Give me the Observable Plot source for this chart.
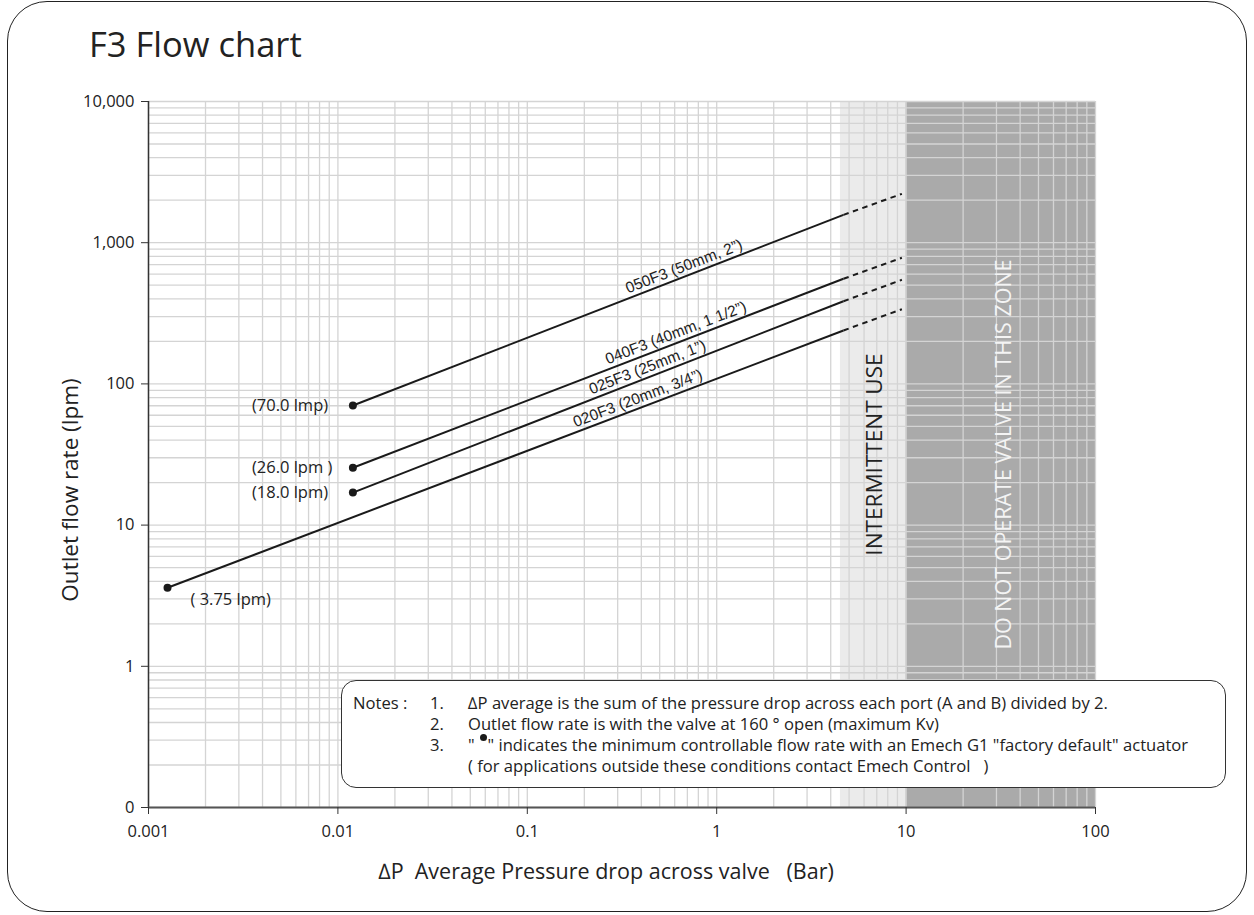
<!DOCTYPE html>
<html>
<head>
<meta charset="utf-8">
<script src="https://cdn.jsdelivr.net/npm/d3@7"></script>
<script src="https://cdn.jsdelivr.net/npm/@observablehq/plot@0.6"></script>
<style>
  html, body { margin: 0; padding: 0; background: #fff; }
  body { width: 1254px; height: 915px; position: relative; overflow: hidden; font-family: "Open Sans", sans-serif; color: #222; }
  #chart { position: absolute; left: 0; top: 0; }
  .abs { position: absolute; white-space: pre; line-height: 1; }
  #frame { position: absolute; left: 7px; top: 1px; width: 1238px; height: 909px; border: 1.5px solid #222; border-radius: 40px; pointer-events: none; }
  #title { left: 89px; top: 27px; font-size: 34.5px; color: #222; }
  #xtitle { left: 606px; top: 860px; font-size: 21.5px; transform: translateX(-50%); }
  #ytitle { left: 70px; top: 490px; font-size: 22.5px; transform: translate(-50%, -50%) rotate(-90deg); }
  #notes { position: absolute; left: 341px; top: 680px; width: 883px; height: 106px; border: 1.3px solid #333; border-radius: 15px; background: #fff; }
  .n { position: absolute; font-size: 16.6px; white-space: pre; line-height: 1; }
  #bullet { position: absolute; width: 7px; height: 7px; border-radius: 50%; background: #1a1a1a; }
</style>
</head>
<body>
<div id="chart"></div>
<div id="frame"></div>
<div id="title" class="abs"></div>
<div id="xtitle" class="abs"></div>
<div id="ytitle" class="abs"></div>
<div id="notes"></div>
<script>
// ---------- data ----------
const titleText = "F3 Flow chart";
const xTitle = "\u2206P  Average Pressure drop across valve   (Bar)";
const yTitle = "Outlet flow rate (lpm)";

const xDomain = [0.001, 100];
const yDomain = [0.1, 10000];
const xTicks = [0.001, 0.01, 0.1, 1, 10, 100];
const xTickLabels = ["0.001", "0.01", "0.1", "1", "10", "100"];
const yTicks = [0.1, 1, 10, 100, 1000, 10000];
const yTickLabels = ["0", "1", "10", "100", "1,000", "10,000"];

const seriesNames = ["050F3 (50mm, 2\u201d)", "040F3 (40mm, 1 1/2\u201d)", "025F3 (25mm, 1\u201d)", "020F3 (20mm, 3/4\u201d)"];
const startDP = [0.012, 0.012, 0.012, 0.00126];
const startFlow = [70.3, 25.5, 17.0, 3.6];
const solidEndDP = [4.67, 4.67, 4.67, 4.67];
const solidEndFlow = [1575, 555, 385, 239];
const dashEndDP = [9.5, 9.5, 9.5, 9.5];
const dashEndFlow = [2218, 782, 546, 338];
const seriesLabelDP = [0.64, 0.58, 0.41, 0.365];
const minFlowLabels = ["(70.0 lmp)", "(26.0 lpm )", "(18.0 lpm)", "( 3.75 lpm)"];

const zoneNames = ["INTERMITTENT USE", "DO NOT OPERATE VALVE IN THIS ZONE"];
const zoneFrom = [4.5, 10];
const zoneTo = [10, 100];
const zoneLabelDP = [6.8, 33];

const noteHead = "Notes :";
const noteNums = ["1.", "2.", "3.", ""];
const noteLines = [
  "\u2206P average is the sum of the pressure drop across each port (A and B) divided by 2.",
  "Outlet flow rate is with the valve at 160 \u00b0 open (maximum Kv)",
  "\"   \" indicates the minimum controllable flow rate with an Emech G1 \"factory default\" actuator",
  "( for applications outside these conditions contact Emech Control   )"
];

// ---------- layout ----------
const W = 1254, H = 915, mL = 148, mR = 159, mT = 101, mB = 108;
const decX = (W - mL - mR) / Math.log10(xDomain[1] / xDomain[0]);
const decY = (H - mT - mB) / Math.log10(yDomain[1] / yDomain[0]);

const rows = seriesNames.map((name, i) => {
  const lx0 = Math.log10(startDP[i]), ly0 = Math.log10(startFlow[i]);
  const lx1 = Math.log10(solidEndDP[i]), ly1 = Math.log10(solidEndFlow[i]);
  const t = (Math.log10(seriesLabelDP[i]) - lx0) / (lx1 - lx0);
  return {
    name, p0: startDP[i], q0: startFlow[i], p1: solidEndDP[i], q1: solidEndFlow[i],
    p2: dashEndDP[i], q2: dashEndFlow[i], lp: seriesLabelDP[i],
    lq: Math.pow(10, ly0 + t * (ly1 - ly0)),
    angle: -Math.atan(((ly1 - ly0) * decY) / ((lx1 - lx0) * decX)) * 180 / Math.PI,
    minLabel: minFlowLabels[i]
  };
});
const zones = zoneNames.map((label, i) => ({label, from: zoneFrom[i], to: zoneTo[i], at: zoneLabelDP[i]}));
const gridX = d3.scaleLog().domain(xDomain).ticks();
const gridY = d3.scaleLog().domain(yDomain).ticks();
const xFmt = new Map(xTicks.map((v, i) => [v, xTickLabels[i]]));
const yFmt = new Map(yTicks.map((v, i) => [v, yTickLabels[i]]));

const chart = Plot.plot({
  width: W, height: H, marginLeft: mL, marginRight: mR, marginTop: mT, marginBottom: mB,
  x: {type: "log", domain: xDomain},
  y: {type: "log", domain: yDomain},
  style: {fontFamily: "'Open Sans', sans-serif", fontSize: "16.5px", color: "#222", background: "transparent", overflow: "visible"},
  marks: [
    Plot.rect(zones.slice(0, 1), {x1: "from", x2: "to", fill: "#ebebeb"}),
    Plot.rect(zones.slice(1), {x1: "from", x2: "to", fill: "#aaaaaa"}),
    Plot.ruleX(gridX, {stroke: "#d4d4d4", strokeWidth: 1.3}),
    Plot.ruleY(gridY, {stroke: "#d4d4d4", strokeWidth: 1.3}),
    Plot.text(zones.slice(0, 1), {x: "at", text: "label", rotate: -90, frameAnchor: "middle", fontSize: 22.5, fill: "#222"}),
    Plot.text(zones.slice(1), {x: "at", text: "label", rotate: -90, frameAnchor: "middle", fontSize: 21.5, fill: "#f4f4f4"}),
    Plot.link(rows, {x1: "p0", y1: "q0", x2: "p1", y2: "q1", stroke: "#1a1a1a", strokeWidth: 2}),
    Plot.link(rows, {x1: "p1", y1: "q1", x2: "p2", y2: "q2", stroke: "#1a1a1a", strokeWidth: 2, strokeDasharray: "5.5,4.5"}),
    Plot.dot(rows, {x: "p0", y: "q0", r: 4, fill: "#1a1a1a"}),
    Plot.text(rows, {x: "lp", y: "lq", text: "name", rotate: "angle", fontFamily: "'Liberation Sans', Arial, sans-serif", fontSize: 15.5, fill: "#222", dx: 4, dy: -12}),
    Plot.text(rows.slice(0, 3), {x: "p0", y: "q0", text: "minLabel", textAnchor: "start", dx: -101, fontSize: 16.5, fill: "#222"}),
    Plot.text(rows.slice(3), {x: "p0", y: "q0", text: "minLabel", textAnchor: "start", dx: 23, dy: 12, fontSize: 16.5, fill: "#222"}),
    Plot.ruleX([xDomain[0]], {stroke: "#333", strokeWidth: 1.5}),
    Plot.ruleY([yDomain[0]], {stroke: "#555", strokeWidth: 2}),
    Plot.axisX({ticks: xTicks, tickFormat: d => xFmt.get(d), tickSize: 7, tickPadding: 11, label: null, fontSize: 16.5, stroke: "#333"}),
    Plot.axisY({ticks: yTicks, tickFormat: d => yFmt.get(d), tickSize: 7, tickPadding: 7, label: null, fontSize: 16.5, stroke: "#333"})
  ]
});
document.getElementById("chart").appendChild(chart);
document.getElementById("title").textContent = titleText;
document.getElementById("xtitle").textContent = xTitle;
document.getElementById("ytitle").textContent = yTitle;

// notes box content (positions relative to box)
const notes = document.getElementById("notes");
const lineTops = [14, 35, 56, 77];
function addNote(text, left, top) {
  const d = document.createElement("div");
  d.className = "n"; d.textContent = text;
  d.style.left = left + "px"; d.style.top = top + "px";
  notes.appendChild(d);
}
addNote(noteHead, 11, lineTops[0]);
noteNums.forEach((t, i) => { if (t) addNote(t, 88, lineTops[i]); });
noteLines.forEach((t, i) => addNote(t, 126, lineTops[i]));
const b = document.createElement("div");
b.id = "bullet"; b.style.left = "138px"; b.style.top = "53px";
notes.appendChild(b);
</script>
</body>
</html>
